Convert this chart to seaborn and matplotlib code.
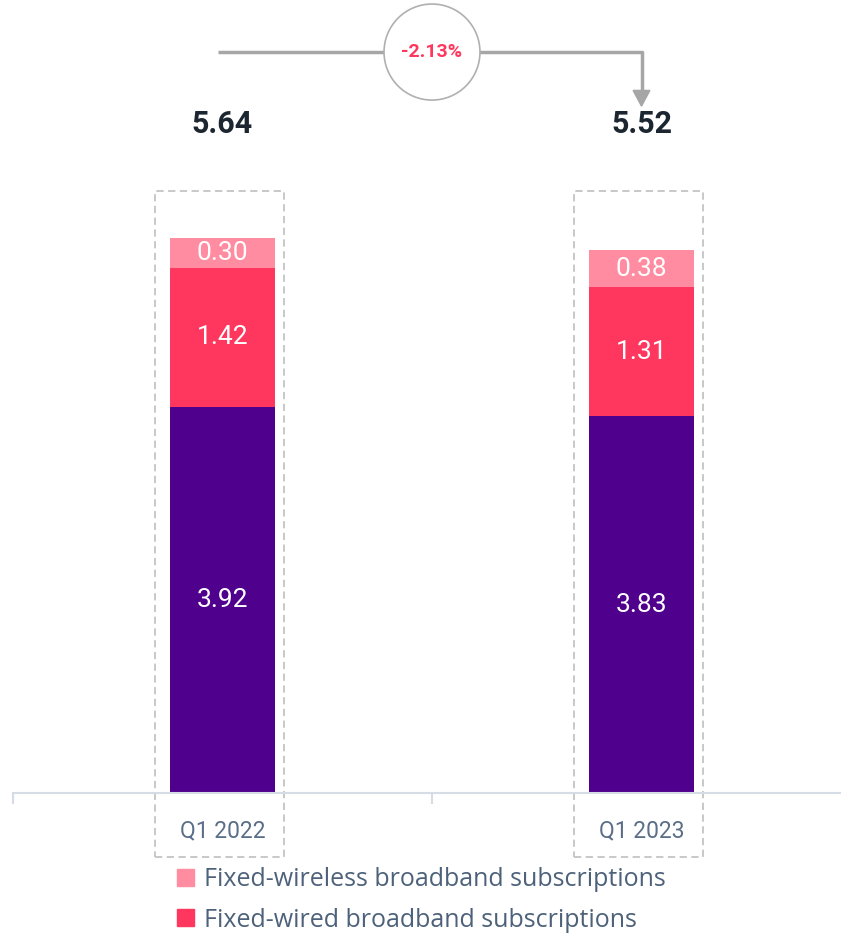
import numpy as np
import pandas as pd
import matplotlib.pyplot as plt
import matplotlib.patches as mpatches
import seaborn as sns

quarters = ["Q1 2022", "Q1 2023"]
fixed_broadband = [3.92, 3.83]
fixed_wired = [1.42, 1.31]
fixed_wireless = [0.30, 0.38]
totals = [5.64, 5.52]
change_label = "-2.13%"
legend_labels = ["Fixed-wireless broadband subscriptions",
                 "Fixed-wired broadband subscriptions"]

PURPLE = "#4f008c"
PINK = "#ff375e"
LIGHT_PINK = "#ff8ca0"
TEXT_DARK = "#1c2630"
TEXT_GREY = "#4d627a"

sns.set_style("white")
plt.rcParams["font.family"] = ["Roboto", "DejaVu Sans"]

df = pd.DataFrame({
    "quarter": quarters,
    "base": fixed_broadband,
    "wired": fixed_wired,
    "wireless": fixed_wireless,
})
df["base_wired"] = df["base"] + df["wired"]
df["total"] = df["base_wired"] + df["wireless"]

fig = plt.figure(figsize=(8.41, 9.38), dpi=100)
ax = fig.add_axes([13 / 841, 1 - 793 / 938, 838 / 841, 6.0 * 98.4 / 938])

# stacked bars: draw cumulative heights, tallest first
for col, c in [("total", LIGHT_PINK), ("base_wired", PINK), ("base", PURPLE)]:
    sns.barplot(data=df, x="quarter", y=col, color=c, width=0.25,
                saturation=1, linewidth=0, ax=ax, zorder=2)

ax.set_xlim(-0.5, 1.5)
ax.set_ylim(0, 6.0)
ax.set_xlabel("")
ax.set_ylabel("")
ax.set_yticks([])
for s in ["left", "right", "top"]:
    ax.spines[s].set_visible(False)
ax.spines["bottom"].set_color("#d5dce6")
ax.spines["bottom"].set_linewidth(1.5)
ax.set_xticks(range(len(quarters)))
ax.set_xticklabels(quarters, fontsize=16.5, color="#5a6e87")
ax.tick_params(axis="x", which="major", length=0, pad=19)
ax.set_xticks([-0.5, 0.5, 1.5], minor=True)
ax.tick_params(axis="x", which="minor", bottom=True, length=8, width=1.5,
               color="#d5dce6")

# segment labels
for i in range(len(quarters)):
    segs = [(0, fixed_broadband[i]),
            (fixed_broadband[i], fixed_wired[i]),
            (fixed_broadband[i] + fixed_wired[i], fixed_wireless[i])]
    for bottom, h in segs:
        ax.text(i, bottom + h / 2, f"{h:.2f}", ha="center", va="center",
                color="white", fontsize=19, zorder=3)
    ax.text(i, 6.8, f"{totals[i]:.2f}", ha="center", va="center",
            color=TEXT_DARK, fontsize=22, fontweight="bold", clip_on=False)
    # dashed frame around each column
    rect = mpatches.Rectangle((i - 0.162, -0.65), 0.308, 6.77, fill=False,
                              edgecolor="#c4c4c4", linestyle=(0, (4, 2.5)),
                              linewidth=1.3, clip_on=False, zorder=1)
    ax.add_patch(rect)

# change connector
y_line = 7.53
ax.plot([-0.01, 1.0, 1.0], [y_line, y_line, 7.12], color="#a6a6a6", lw=2.5,
        clip_on=False, solid_capstyle="butt", zorder=4)
ax.add_patch(mpatches.Polygon([[0.98, 7.14], [1.02, 7.14], [1.0, 6.98]],
                              closed=True, color="#a6a6a6", clip_on=False, zorder=4))
ax.add_patch(mpatches.Ellipse((0.5, y_line), 0.229, 0.976, facecolor="white",
                              edgecolor="#b0b0b0", linewidth=1.2, clip_on=False,
                              zorder=5))
ax.text(0.5, y_line, change_label, ha="center", va="center", color=PINK,
        fontsize=14, fontweight="bold", clip_on=False, zorder=6)

# legend
handles = [mpatches.Patch(color=LIGHT_PINK, label=legend_labels[0]),
           mpatches.Patch(color=PINK, label=legend_labels[1])]
fig.legend(handles=handles, loc="upper left", bbox_to_anchor=(177 / 841, 1 - 867 / 938),
           frameon=False, prop={"family": "Open Sans", "size": 18},
           labelcolor=TEXT_GREY, handlelength=0.68,
           handleheight=0.68, handletextpad=0.4, labelspacing=0.62,
           borderaxespad=0, borderpad=0)

fig.savefig("out.png", dpi=100)
